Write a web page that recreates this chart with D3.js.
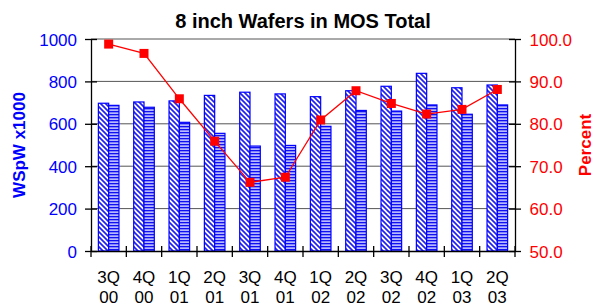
<!DOCTYPE html>
<html>
<head>
<meta charset="utf-8">
<script src="https://cdn.jsdelivr.net/npm/d3@7"></script>
<style>
  body { margin: 0; background: #fff; }
  text { font-family: Arial, "Liberation Sans", sans-serif; }
</style>
</head>
<body>
<div id="wrapper"></div>
<script>
const quarters = ['3Q', '4Q', '1Q', '2Q', '3Q', '4Q', '1Q', '2Q', '3Q', '4Q', '1Q', '2Q']
const years = ['00', '00', '01', '01', '01', '01', '02', '02', '02', '02', '03', '03']
const capacity = [697, 703, 708, 734, 749, 741, 728, 756, 777, 838, 770, 783]
const starts = [687, 678, 607, 555, 495, 498, 588, 663, 660, 689, 645, 689]
const percent = [98.8, 96.6, 85.9, 75.9, 66.2, 67.4, 80.9, 87.8, 84.8, 82.3, 83.4, 88.1]
const leftTicks = [0, 200, 400, 600, 800, 1000]
const rightTicks = [50, 60, 70, 80, 90, 100]

function drawChart() {
  //1. dimensions
  const dimensions = {
    width: 595,
    height: 307,
    margin: { top: 39, right: 80, bottom: 56, left: 91 }
  }
  dimensions.boundedWidth = dimensions.width - dimensions.margin.left - dimensions.margin.right
  dimensions.boundedHeight = dimensions.height - dimensions.margin.top - dimensions.margin.bottom

  //2. canvas
  const wrapper = d3.select('#wrapper')
    .append('svg')
      .attr('width', dimensions.width)
      .attr('height', dimensions.height)

  const defs = wrapper.append('defs')
  const diag = defs.append('pattern')
    .attr('id', 'diag')
    .attr('patternUnits', 'userSpaceOnUse')
    .attr('width', 5).attr('height', 5)
  diag.append('rect').attr('width', 5).attr('height', 5).attr('fill', '#fff')
  diag.append('path')
    .attr('d', 'M-1,-1 L6,6 M-1,4 L1,6 M4,-1 L6,1')
    .attr('stroke', '#2020f0').attr('stroke-width', 1.7)

  const horiz = defs.append('pattern')
    .attr('id', 'horiz')
    .attr('patternUnits', 'userSpaceOnUse')
    .attr('width', 4).attr('height', 3)
  horiz.append('rect').attr('width', 4).attr('height', 3).attr('fill', '#b8b8ff')
  horiz.append('rect').attr('y', 0).attr('width', 4).attr('height', 1.3).attr('fill', '#1010f0')

  const bounds = wrapper.append('g')
    .attr('transform', `translate(${dimensions.margin.left}, ${dimensions.margin.top})`)

  //3. scales
  const xScale = d3.scaleBand()
    .domain(d3.range(quarters.length))
    .range([0, dimensions.boundedWidth])

  const yScale = d3.scaleLinear()
    .domain([0, 1000])
    .range([dimensions.boundedHeight, 0])

  const pScale = d3.scaleLinear()
    .domain([50, 100])
    .range([dimensions.boundedHeight, 0])

  const barWidth = 10.3
  const center = i => xScale(i) + xScale.bandwidth() / 2

  //4. gridlines
  bounds.append('g')
    .selectAll('line')
    .data(leftTicks.slice(1))
    .enter().append('line')
      .attr('x1', 0)
      .attr('x2', dimensions.boundedWidth)
      .attr('y1', d => yScale(d))
      .attr('y2', d => yScale(d))
      .attr('stroke', '#555')
      .attr('stroke-width', 1)

  //5. bars
  bounds.selectAll('.bar-cap')
    .data(capacity)
    .enter().append('rect')
      .attr('class', 'bar-cap')
      .attr('x', (d, i) => center(i) - barWidth)
      .attr('y', d => yScale(d))
      .attr('width', barWidth)
      .attr('height', d => yScale(0) - yScale(d))
      .attr('fill', 'url(#diag)')
      .attr('stroke', '#0000ff')
      .attr('stroke-width', 1.2)

  bounds.selectAll('.bar-starts')
    .data(starts)
    .enter().append('rect')
      .attr('class', 'bar-starts')
      .attr('x', (d, i) => center(i))
      .attr('y', d => yScale(d))
      .attr('width', barWidth)
      .attr('height', d => yScale(0) - yScale(d))
      .attr('fill', 'url(#horiz)')
      .attr('stroke', '#0000ff')
      .attr('stroke-width', 1.2)

  //6. line
  const lineGenerator = d3.line()
    .x((d, i) => center(i))
    .y(d => pScale(d))

  bounds.append('path')
    .datum(percent)
    .attr('d', lineGenerator)
    .attr('fill', 'none')
    .attr('stroke', '#ff0000')
    .attr('stroke-width', 1.3)

  bounds.selectAll('.marker')
    .data(percent)
    .enter().append('rect')
      .attr('class', 'marker')
      .attr('x', (d, i) => center(i) - 4.5)
      .attr('y', d => pScale(d) - 4.5)
      .attr('width', 9)
      .attr('height', 9)
      .attr('fill', '#ff0000')

  //7. axes
  const leftAxis = d3.axisLeft(yScale)
    .tickValues(leftTicks)
    .tickFormat(d3.format('d'))
    .tickSizeOuter(0)
  const leftG = bounds.append('g').call(leftAxis)
  leftG.selectAll('.tick line').attr('x2', 6).attr('x1', -6).attr('stroke', '#000').attr('stroke-width', 1.3)
  leftG.select('.domain').attr('stroke', '#000').attr('stroke-width', 1.3)
  leftG.selectAll('.tick text')
    .attr('x', -14)
    .attr('dy', '0.36em')
    .attr('fill', '#0000ff')
    .style('font-size', '17px')

  const rightAxis = d3.axisRight(pScale)
    .tickValues(rightTicks)
    .tickFormat(d3.format('.1f'))
    .tickSizeOuter(0)
  const rightG = bounds.append('g')
    .attr('transform', `translate(${dimensions.boundedWidth}, 0)`)
    .call(rightAxis)
  rightG.selectAll('.tick line').attr('x1', -6).attr('x2', 6).attr('stroke', '#000').attr('stroke-width', 1.3)
  rightG.select('.domain').attr('stroke', '#000').attr('stroke-width', 1.3)
  rightG.selectAll('.tick text')
    .attr('x', 14.5)
    .attr('dy', '0.36em')
    .attr('fill', '#ff0000')
    .style('font-size', '17px')

  const xAxis = d3.axisBottom(xScale)
    .tickValues([])
    .tickSizeOuter(0)
  const xG = bounds.append('g')
    .attr('transform', `translate(0, ${dimensions.boundedHeight})`)
    .call(xAxis)
  xG.select('.domain').attr('stroke', '#000').attr('stroke-width', 1.3)
  xG.selectAll('.sep')
    .data(d3.range(quarters.length + 1))
    .enter().append('line')
      .attr('class', 'sep')
      .attr('x1', d => d * xScale.step())
      .attr('x2', d => d * xScale.step())
      .attr('y1', -5)
      .attr('y2', 6)
      .attr('stroke', '#000')
      .attr('stroke-width', 1.3)

  const labels = xG.selectAll('.xlabel')
    .data(quarters)
    .enter().append('text')
      .attr('class', 'xlabel')
      .attr('text-anchor', 'middle')
      .attr('fill', '#000')
      .style('font-size', '17px')
  labels.append('tspan')
    .attr('x', (d, i) => center(i))
    .attr('y', 32)
    .text(d => d)
  labels.append('tspan')
    .attr('x', (d, i) => center(i))
    .attr('y', 51.5)
    .text((d, i) => years[i])

  //8. titles
  wrapper.append('text')
    .attr('x', 303)
    .attr('y', 28)
    .attr('text-anchor', 'middle')
    .style('font-size', '20px')
    .style('font-weight', 'bold')
    .text('8 inch Wafers in MOS Total')

  wrapper.append('text')
    .attr('transform', `translate(25, ${dimensions.margin.top + dimensions.boundedHeight / 2}) rotate(-90)`)
    .attr('text-anchor', 'middle')
    .attr('fill', '#0000ff')
    .style('font-size', '17px')
    .style('font-weight', 'bold')
    .text('WSpW x1000')

  wrapper.append('text')
    .attr('transform', `translate(591, ${dimensions.margin.top + dimensions.boundedHeight / 2}) rotate(-90)`)
    .attr('text-anchor', 'middle')
    .attr('fill', '#ff0000')
    .style('font-size', '17px')
    .style('font-weight', 'bold')
    .text('Percent')
}
drawChart()
</script>
</body>
</html>
